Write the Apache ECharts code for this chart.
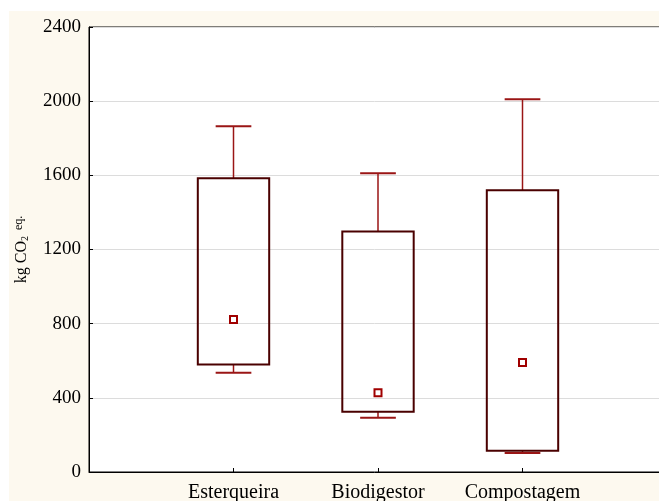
<!DOCTYPE html>
<html>
<head>
<meta charset="utf-8">
<script src="https://cdn.jsdelivr.net/npm/echarts@6/dist/echarts.min.js"></script>
<style>
html,body{margin:0;padding:0;background:#fff;width:659px;height:501px;overflow:hidden;}
#bg{position:absolute;left:9px;top:11px;width:650px;height:490px;background:#fdf9ef;}
#chart{position:absolute;left:0;top:0;width:659px;height:501px;}
</style>
</head>
<body>
<div id="bg"></div>
<div id="chart"></div>
<script>
const categories = ['Esterqueira', 'Biodigestor', 'Compostagem'];
const whiskerLow  = [535, 292, 103];
const boxLow      = [580, 325, 115];
const boxHigh     = [1584, 1297, 1519];
const whiskerHigh = [1865, 1611, 2010];
const centerPoint = [822, 427, 590];
const yTicks = [0, 400, 800, 1200, 1600, 2000, 2400];

const data = categories.map((c, i) => [i + 1, whiskerLow[i], boxLow[i], boxHigh[i], whiskerHigh[i], centerPoint[i]]);

const BOX_W = 0.494, CAP_W = 0.247;
const boxColor = '#4a0000', whiskerColor = '#9a1515', pointColor = '#a00000';
const font = '"Liberation Serif", "Times New Roman", serif';

const chart = echarts.init(document.getElementById('chart'), null, {renderer: 'canvas'});
chart.setOption({
  backgroundColor: 'transparent',
  animation: false,
  grid: {left: 89, top: 27, bottom: 29, width: 578, outerBoundsMode: 'none', containLabel: false,
         show: true, backgroundColor: '#fff', borderColor: '#000', borderWidth: 1},
  xAxis: {
    type: 'value', min: 0, max: 4, interval: 1,
    axisLine: {show: true, lineStyle: {color: '#000', width: 1}},
    axisTick: {show: true, inside: true, length: 4, lineStyle: {color: '#000'}},
    splitLine: {show: false},
    axisLabel: {
      color: '#000', fontFamily: font, fontSize: 20, margin: 11,
      formatter: v => (v >= 1 && v <= categories.length) ? categories[v - 1] : ''
    }
  },
  yAxis: {
    type: 'value', min: yTicks[0], max: yTicks[yTicks.length - 1], interval: 400,
    axisLine: {show: true, lineStyle: {color: '#000', width: 1}},
    axisTick: {show: true, inside: true, length: 4, lineStyle: {color: '#000'}},
    splitLine: {show: true, lineStyle: {color: '#dcdcdc', width: 1}},
    axisLabel: {color: '#000', fontFamily: font, fontSize: 19, margin: 8, formatter: v => String(v)},
    name: '{a|kg CO}{s|2}{e|  eq.}',
    nameLocation: 'middle', nameRotate: 90, nameGap: 59,
    nameTextStyle: {
      fontFamily: font, color: '#000',
      rich: {
        a: {fontFamily: font, fontSize: 16, color: '#000'},
        s: {fontFamily: font, fontSize: 10, color: '#000', verticalAlign: 'bottom', padding: [7, 0, 0, 0]},
        e: {fontFamily: font, fontSize: 12, color: '#000', verticalAlign: 'top'}
      }
    }
  },
  series: [{
    type: 'custom',
    data: data,
    encode: {x: 0, y: [1, 2, 3, 4, 5]},
    renderItem: function (params, api) {
      const x = api.value(0);
      const lo = api.coord([x, api.value(1)]);
      const q1 = api.coord([x, api.value(2)]);
      const q3 = api.coord([x, api.value(3)]);
      const hi = api.coord([x, api.value(4)]);
      const pt = api.coord([x, api.value(5)]);
      const bw = api.size([BOX_W, 0])[0];
      const cw = api.size([CAP_W, 0])[0];
      const cx = q1[0];
      return {
        type: 'group',
        children: [
          {type: 'line', shape: {x1: cx, y1: q3[1], x2: cx, y2: hi[1]}, style: {stroke: whiskerColor, lineWidth: 1.5}},
          {type: 'line', shape: {x1: cx - cw / 2, y1: hi[1], x2: cx + cw / 2, y2: hi[1]}, style: {stroke: whiskerColor, lineWidth: 2}},
          {type: 'line', shape: {x1: cx, y1: q1[1], x2: cx, y2: lo[1]}, style: {stroke: whiskerColor, lineWidth: 1.5}},
          {type: 'line', shape: {x1: cx - cw / 2, y1: lo[1], x2: cx + cw / 2, y2: lo[1]}, style: {stroke: whiskerColor, lineWidth: 2}},
          {type: 'rect', shape: {x: cx - bw / 2, y: q3[1], width: bw, height: q1[1] - q3[1]}, style: {fill: 'rgba(255,255,255,0)', stroke: boxColor, lineWidth: 2}},
          {type: 'rect', shape: {x: pt[0] - 3.5, y: pt[1] - 3.5, width: 7, height: 7}, style: {fill: '#fff', stroke: pointColor, lineWidth: 2}}
        ]
      };
    }
  }]
});
</script>
</body>
</html>
